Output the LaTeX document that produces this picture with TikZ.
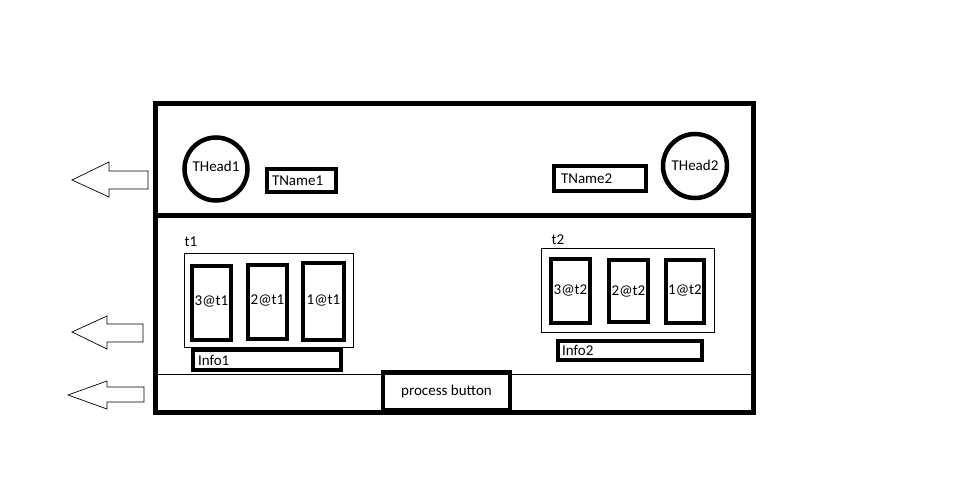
\documentclass[tikz,border=0pt]{standalone}
\usepackage{fontspec}
\setmainfont{Carlito}
\usetikzlibrary{positioning}

\begin{document}
\begin{tikzpicture}[
    x=1pt, y=-1pt, font=\fontsize{15}{17}\selectfont,
    frame/.style={draw, line width=5pt},
    field/.style={draw, line width=4pt, align=left, inner ysep=0pt},
    slot/.style={draw, line width=4.5pt, inner sep=0pt},
    group/.style={draw, line width=0.8pt, inner sep=0pt},
    head/.style={draw, circle, line width=4.5pt, inner sep=0pt},
    hollow/.style={draw, line width=0.7pt, line join=miter}]
  \useasboundingbox (0,0) rectangle (964,484);
  % window frame and panels
  \draw[frame] (155.5,103.5) rectangle (753,412);
  \draw[frame] (155.5,215.5) -- (753,215.5);
  \draw[line width=0.8pt] (155.5,374.5) -- (753,374.5);
  % header
  \node[head, minimum size=63pt] (thead1) at (216,169) {\raisebox{5pt}{THead1}};
  \node[head, minimum size=64pt] (thead2) at (695,166) {\raisebox{2pt}{THead2}};
  \node[field, text width=59pt, inner xsep=5pt, minimum height=23pt] (tname1) at (301.5,180.5) {TName1};
  \node[field, text width=78pt, inner xsep=7pt, minimum height=25pt] (tname2) at (600,178.5) {TName2};
  % body, first table
  \node[anchor=west] (t1) at (181,242) {t1};
  \node[group, minimum width=169pt, minimum height=94pt] (grp1) at (268.5,300) {};
  \node[slot, minimum width=39pt, minimum height=74pt] (s3t1) at (211.5,303) {\raisebox{5pt}{3@t1}};
  \node[slot, minimum width=39pt, minimum height=74pt] (s2t1) at (267.5,302) {\raisebox{4pt}{2@t1}};
  \node[slot, minimum width=41pt, minimum height=77pt] (s1t1) at (323.5,301.5) {\raisebox{4pt}{1@t1}};
  \node[field, text width=138pt, inner xsep=5pt, minimum height=20pt] (info1) at (267,360) {Info1};
  % body, second table
  \node[anchor=west] (t2) at (548,240) {t2};
  \node[group, minimum width=173pt, minimum height=84pt] (grp2) at (627.5,290) {};
  \node[slot, minimum width=39pt, minimum height=64pt] (s3t2) at (570.5,291) {\raisebox{2pt}{3@t2}};
  \node[slot, minimum width=39pt, minimum height=62pt] (s2t2) at (628.5,291) {2@t2};
  \node[slot, minimum width=38pt, minimum height=63pt] (s1t2) at (685,291.5) {\raisebox{3pt}{1@t2}};
  \node[field, text width=136pt, inner xsep=4pt, minimum height=19pt] (info2) at (630,350.5) {Info2};
  % footer
  \node[field, align=center, minimum width=127pt, minimum height=38pt] (process) at (446.5,391) {\raisebox{2pt}{process button}};
  % arrows out of the window
  \draw[hollow] (72,180) -- (109,162) -- (109,171) -- (148,171) -- (148,189) -- (109,189) -- (109,197) -- cycle;
  \draw[hollow] (72,332) -- (107,316) -- (107,324) -- (143,324) -- (143,342) -- (107,342) -- (107,349) -- cycle;
  \draw[hollow] (68,395) -- (107,381) -- (107,387) -- (144,387) -- (144,402) -- (107,402) -- (107,409) -- cycle;
\end{tikzpicture}
\end{document}
